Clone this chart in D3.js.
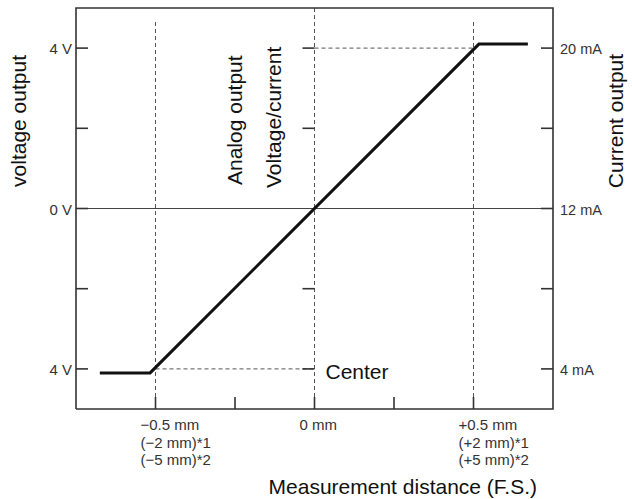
<!DOCTYPE html>
<html>
<head>
<meta charset="utf-8">
<script src="https://cdnjs.cloudflare.com/ajax/libs/d3/7.8.5/d3.min.js"></script>
<style>
  body { margin: 0; background: #fff; }
  text { font-family: "Liberation Sans", Arial, sans-serif; }
</style>
</head>
<body>
<div id="chart"></div>
<script>
// output curve, x in mm (F.S.), y in units where +/-2 = 20 mA / 4 mA
var curveX = [-0.675, -0.517, 0.517, 0.671];
var curveY = [-2.05, -2.05, 2.05, 2.05];

var yTicks = [-2, -1, 0, 1, 2];
var voltLabels = ["4 V", "", "0 V", "", "4 V"];
var currLabels = ["4 mA", "", "12 mA", "", "20 mA"];

var xTicks = [-0.5, -0.25, 0, 0.25, 0.5];
var xLabels = [
  ["\u22120.5 mm", "(\u22122 mm)*1", "(\u22125 mm)*2"],
  [],
  ["0 mm"],
  [],
  ["+0.5 mm", "(+2 mm)*1", "(+5 mm)*2"]
];

var width = 632, height = 499;
var pLeft = 76, pRight = 553, pTop = 8, pBottom = 409;

var svg = d3.select("#chart").append("svg")
  .attr("width", width)
  .attr("height", height);

var x = d3.scaleLinear().domain([-0.75, 0.75]).range([pLeft, pRight]);
var y = d3.scaleLinear().domain([-2.5, 2.5]).range([pBottom, pTop]);

var axisColor = "#333";
var dash = "4,3";

// zero line
svg.append("line")
  .attr("x1", pLeft).attr("x2", pRight)
  .attr("y1", y(0)).attr("y2", y(0))
  .attr("stroke", "#444").attr("stroke-width", 1);

// dashed guides
var guides = svg.append("g")
  .attr("stroke", "#555")
  .attr("stroke-width", 1)
  .attr("stroke-dasharray", dash)
  .attr("fill", "none");

guides.append("line")
  .attr("x1", x(-0.5)).attr("x2", x(-0.5))
  .attr("y1", pTop + 14).attr("y2", pBottom);
guides.append("line")
  .attr("x1", x(0)).attr("x2", x(0))
  .attr("y1", pTop).attr("y2", pBottom);
guides.append("line")
  .attr("x1", x(0.5)).attr("x2", x(0.5))
  .attr("y1", pTop + 14).attr("y2", pBottom);
guides.append("line")
  .attr("x1", x(0)).attr("x2", x(0.5))
  .attr("y1", y(2)).attr("y2", y(2));
guides.append("line")
  .attr("x1", x(-0.5)).attr("x2", x(0))
  .attr("y1", y(-2)).attr("y2", y(-2));

// frame
svg.append("path")
  .attr("d", "M" + pLeft + "," + pBottom + "V" + pTop + "H" + pRight + "V" + pBottom + "H" + pLeft)
  .attr("fill", "none")
  .attr("stroke", axisColor)
  .attr("stroke-width", 1.6);

// ticks
var tickLen = 12;
var ticks = svg.append("g").attr("stroke", axisColor).attr("stroke-width", 1.6);

ticks.selectAll(".tl").data(yTicks).enter().append("line")
  .attr("x1", pLeft).attr("x2", pLeft + tickLen)
  .attr("y1", function(d) { return y(d); })
  .attr("y2", function(d) { return y(d); });

ticks.selectAll(".tr").data(yTicks).enter().append("line")
  .attr("x1", pRight - tickLen).attr("x2", pRight)
  .attr("y1", function(d) { return y(d); })
  .attr("y2", function(d) { return y(d); });

ticks.selectAll(".tc").data(yTicks.filter(function(d) { return d != 0; })).enter().append("line")
  .attr("x1", x(0) - tickLen).attr("x2", x(0))
  .attr("y1", function(d) { return y(d); })
  .attr("y2", function(d) { return y(d); });

ticks.selectAll(".tb").data(xTicks).enter().append("line")
  .attr("x1", function(d) { return x(d); })
  .attr("x2", function(d) { return x(d); })
  .attr("y1", pBottom).attr("y2", pBottom - tickLen);

// output curve
var line = d3.line()
  .x(function(d) { return x(d[0]); })
  .y(function(d) { return y(d[1]); });

svg.append("path")
  .datum(d3.zip(curveX, curveY))
  .attr("d", line)
  .attr("fill", "none")
  .attr("stroke", "#111")
  .attr("stroke-width", 3);

// tick labels
svg.selectAll(".vl").data(yTicks).enter().append("text")
  .attr("x", pLeft - 4)
  .attr("y", function(d) { return y(d) + 6; })
  .attr("text-anchor", "end")
  .attr("font-size", 15)
  .attr("fill", "#333")
  .text(function(d, i) { return voltLabels[i]; });

svg.selectAll(".cl").data(yTicks).enter().append("text")
  .attr("x", pRight + 7)
  .attr("y", function(d) { return y(d) + 6; })
  .attr("font-size", 14.5)
  .attr("fill", "#333")
  .text(function(d, i) { return currLabels[i]; });

xTicks.forEach(function(d, i) {
  xLabels[i].forEach(function(s, j) {
    svg.append("text")
      .attr("x", x(d) - 15)
      .attr("y", 430 + j * 17.5)
      .attr("font-size", 15)
      .attr("fill", "#333")
      .text(s);
  });
});

// titles
function vText(cx, cy, s, anchor) {
  svg.append("text")
    .attr("transform", "translate(" + cx + "," + cy + ") rotate(-90)")
    .attr("text-anchor", anchor || "middle")
    .attr("font-size", 21)
    .attr("fill", "#111")
    .text(s);
}
vText(26, 121, "voltage output");
vText(623, 121, "Current output");
vText(242, 185, "Analog output", "start");
vText(281, 188, "Voltage/current", "start");

svg.append("text")
  .attr("x", x(0) + 11)
  .attr("y", 378.5)
  .attr("font-size", 21)
  .attr("fill", "#111")
  .text("Center");

svg.append("text")
  .attr("x", 537)
  .attr("y", 494)
  .attr("text-anchor", "end")
  .attr("font-size", 21)
  .attr("fill", "#111")
  .text("Measurement distance (F.S.)");
</script>
</body>
</html>
